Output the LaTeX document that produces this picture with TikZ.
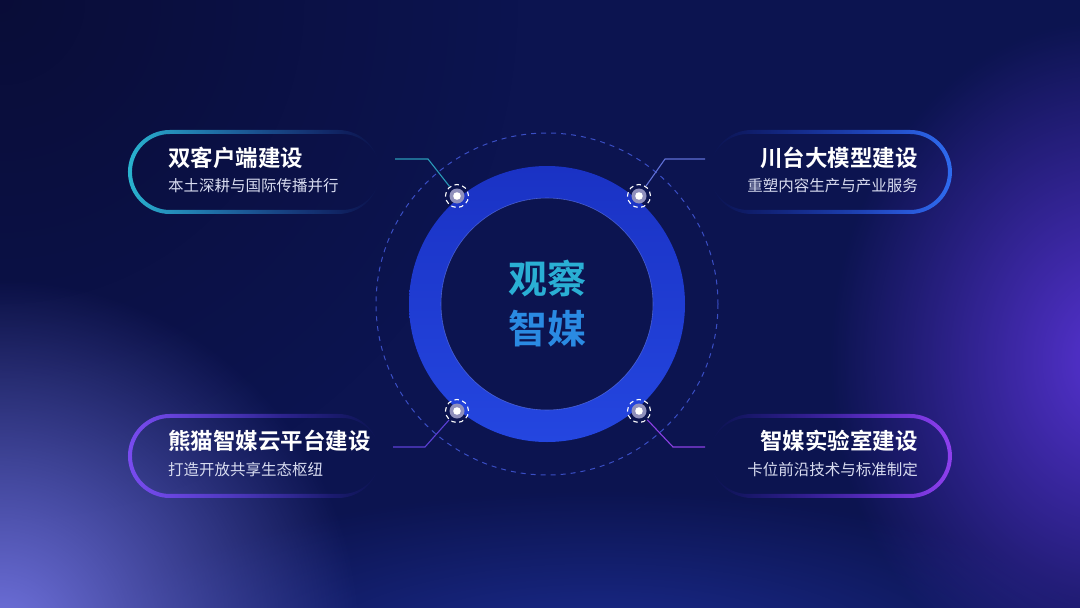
\documentclass[tikz,border=0pt]{standalone}
\usepackage{fontspec}
\usetikzlibrary{fadings}
\newfontfamily\cjk{Noto Sans CJK SC}
\newfontfamily\cjkb{Noto Sans CJK SC Bold}
\definecolor{bgbase}{HTML}{0C1450}
\definecolor{bgdark}{HTML}{090B32}
\definecolor{glowbot}{HTML}{2338B0}
\definecolor{glowright}{HTML}{5A34D8}
\definecolor{glowleft}{HTML}{7274E0}
\definecolor{ringA}{HTML}{1A32C4}
\definecolor{ringB}{HTML}{2446E0}
\definecolor{dashc}{HTML}{3A4EC4}
\definecolor{tealc}{HTML}{2AB4D0}
\definecolor{bluec}{HTML}{2F6CF0}
\definecolor{purpc}{HTML}{7A4CF0}
\definecolor{violc}{HTML}{9040EE}
\definecolor{subc}{HTML}{D8DCF0}
\definecolor{linkTL}{HTML}{2A9AB8}
\definecolor{linkTR}{HTML}{6070D6}
\definecolor{linkBL}{HTML}{5C40D6}
\definecolor{linkBR}{HTML}{8C40E4}
\definecolor{corA}{HTML}{2AAFD4}
\definecolor{corB}{HTML}{2A8AE2}
\tikzfading[name=fadeeast, left color=transparent!0, middle color=transparent!10, right color=transparent!100]
\tikzfading[name=fadewest, left color=transparent!100, middle color=transparent!10, right color=transparent!0]
\tikzfading[name=glowfade, inner color=transparent!0, outer color=transparent!100]
\def\hub(#1){\fill[gray!75!blue!70] (#1) circle (7.5); \fill[white] (#1) circle (3.8);}

\begin{document}
\begin{tikzpicture}[x=1pt, y=-1pt,
	title/.style={inner sep=0, text=white, font=\cjkb\fontsize{22.5}{24}\selectfont},
	sub/.style={inner sep=0, text=subc, font=\cjk\fontsize{15.5}{17}\selectfont},
	hubring/.style={circle, minimum size=23, inner sep=0, draw=white, line width=1.1, dash pattern=on 4.5 off 3.5},
	link/.style={line width=1.1}]
	%%%%% BACKGROUND %%%%%
	\useasboundingbox (0,0) rectangle (1080,608);
	\fill[bgbase] (0,0) rectangle (1080,608);
	\begin{scope}
		\clip (0,0) rectangle (1080,608);
		\fill[bgdark, path fading=glowfade, fill opacity=0.8] (0,0) circle (520);
		\fill[glowbot, path fading=glowfade, fill opacity=0.7] (600,660) ellipse (520 and 170);
		\fill[glowright, path fading=glowfade, fill opacity=0.95] (1110,360) ellipse (280 and 340);
		\fill[glowleft, path fading=glowfade] (0,640) circle (360);
	\end{scope}
	
	%%%%% RING %%%%%
	\coordinate (C) at (547,304);
	\draw[dashc, line width=1, dash pattern=on 5 off 5] (C) circle (171);
	\shade[even odd rule, top color=ringA, bottom color=ringB] (C) circle (138) (C) circle (106);
	\draw[ringB!70!white, line width=0.6, opacity=0.6] (C) circle (106);
	\node[align=center, inner sep=0, font=\cjkb\fontsize{39}{50}\selectfont] (core) at (C)
		{\textcolor{corA}{观察}\\\textcolor{corB}{智媒}};
	
	%%%%% PILLS %%%%%
	\shade[even odd rule, left color=tealc, right color=bluec!80!tealc, path fading=fadeeast, rounded corners=42]
		(128,130) rectangle (380,214) [rounded corners=38] (132,134) rectangle (380,210);
	\shade[even odd rule, left color=bluec!70!blue, right color=bluec, path fading=fadewest, rounded corners=42]
		(710,130) rectangle (952,214) [rounded corners=38] (710,134) rectangle (948,210);
	\shade[even odd rule, left color=purpc, right color=purpc!70!blue, path fading=fadeeast, rounded corners=42]
		(128,414) rectangle (380,498) [rounded corners=38] (132,418) rectangle (380,494);
	\shade[even odd rule, left color=violc!60!blue, right color=violc, path fading=fadewest, rounded corners=42]
		(710,414) rectangle (952,498) [rounded corners=38] (710,418) rectangle (948,494);
	
	%%%%% TEXTS %%%%%
	\node[title, anchor=west] (tTL) at (168,158) {双客户端建设};
	\node[sub, anchor=west] (sTL) at (168,186) {本土深耕与国际传播并行};
	\node[title, anchor=east] (tTR) at (918,158) {川台大模型建设};
	\node[sub, anchor=east] (sTR) at (918,186) {重塑内容生产与产业服务};
	\node[title, anchor=west] (tBL) at (168,441) {熊猫智媒云平台建设};
	\node[sub, anchor=west] (sBL) at (168,470) {打造开放共享生态枢纽};
	\node[title, anchor=east] (tBR) at (918,441) {智媒实验室建设};
	\node[sub, anchor=east] (sBR) at (918,470) {卡位前沿技术与标准制定};
	
	%%%%% HUBS %%%%%
	\node[hubring] (hTL) at (457,196) {};
	\node[hubring] (hTR) at (639,196) {};
	\node[hubring] (hBL) at (457,411) {};
	\node[hubring] (hBR) at (639,411) {};
	\hub(hTL.center) \hub(hTR.center) \hub(hBL.center) \hub(hBR.center)
	
	\coordinate (kTL) at (428,159); \coordinate (eTL) at (395,159);
	\coordinate (kTR) at (665,159); \coordinate (eTR) at (705,159);
	\coordinate (kBL) at (425,447); \coordinate (eBL) at (393,447);
	\coordinate (kBR) at (673,447); \coordinate (eBR) at (705,447);
	\draw[link, linkTL] (hTL) -- (kTL) -- (eTL);
	\draw[link, linkTR] (hTR) -- (kTR) -- (eTR);
	\draw[link, linkBL] (hBL) -- (kBL) -- (eBL);
	\draw[link, linkBR] (hBR) -- (kBR) -- (eBR);
\end{tikzpicture}
\end{document}
